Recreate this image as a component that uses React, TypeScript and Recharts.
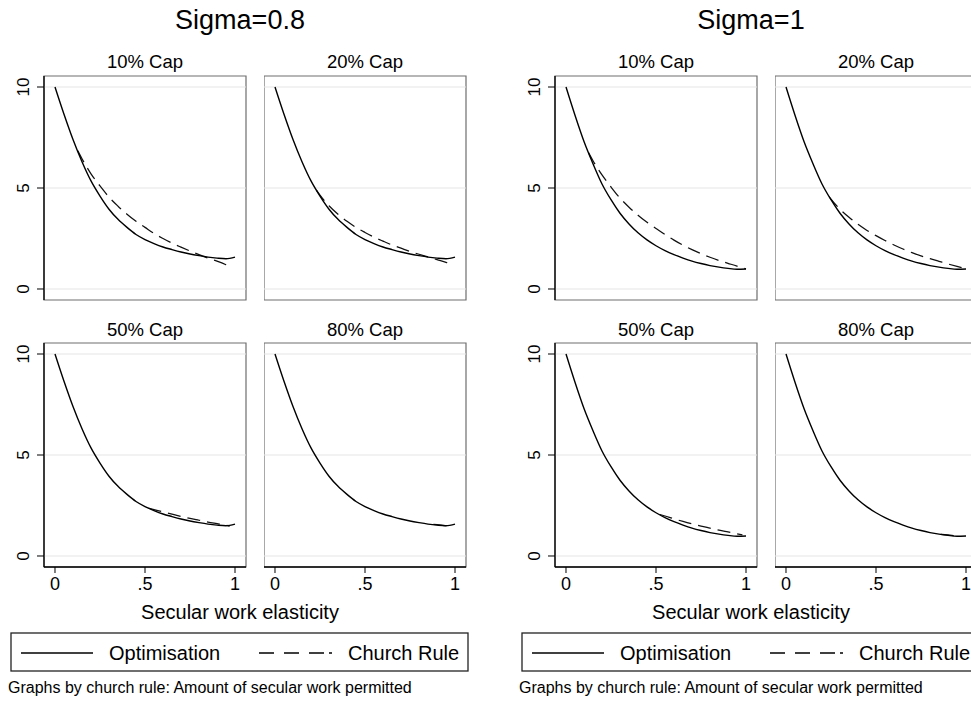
import React from "react";
import { LineChart, Line, XAxis, YAxis, ReferenceLine, ReferenceArea } from "recharts";

// ---------- data ----------
const xGrid = [0, 0.05, 0.1, 0.15, 0.2, 0.25, 0.3, 0.35, 0.4, 0.45, 0.5, 0.55, 0.6, 0.65, 0.7, 0.75, 0.8, 0.85, 0.9, 0.95, 1.0];

// Sigma = 0.8
const optSigma08 = [10.0, 8.65, 7.4, 6.3, 5.35, 4.6, 3.95, 3.45, 3.05, 2.7, 2.45, 2.25, 2.08, 1.95, 1.83, 1.73, 1.65, 1.58, 1.53, 1.5, 1.58];
const rule08_10x = [0.126, 0.15, 0.2, 0.25, 0.3, 0.35, 0.4, 0.45, 0.5, 0.55, 0.6, 0.65, 0.7, 0.75, 0.8, 0.85, 0.9, 0.95, 0.985];
const rule08_10y = [6.85, 6.45, 5.7, 5.1, 4.55, 4.1, 3.7, 3.35, 3.05, 2.75, 2.5, 2.27, 2.07, 1.88, 1.7, 1.53, 1.38, 1.2, 1.05];
const rule08_20x = [0.23, 0.25, 0.3, 0.35, 0.4, 0.45, 0.5, 0.55, 0.6, 0.65, 0.7, 0.75, 0.8, 0.85, 0.9, 0.95, 0.99];
const rule08_20y = [4.9, 4.65, 4.12, 3.7, 3.35, 3.05, 2.8, 2.57, 2.37, 2.18, 2.02, 1.86, 1.72, 1.59, 1.45, 1.32, 1.18];
const rule08_50x = [0.52, 0.55, 0.6, 0.65, 0.7, 0.75, 0.8, 0.85, 0.9, 0.95, 0.97];
const rule08_50y = [2.37, 2.3, 2.18, 2.07, 1.96, 1.86, 1.77, 1.68, 1.6, 1.52, 1.47];
const rule08_80x = [0.88, 0.9, 0.93, 0.96];
const rule08_80y = [1.57, 1.55, 1.52, 1.5];

// Sigma = 1
const optSigma1 = [10.0, 8.6, 7.3, 6.2, 5.2, 4.42, 3.75, 3.22, 2.78, 2.43, 2.14, 1.9, 1.7, 1.53, 1.38, 1.26, 1.16, 1.08, 1.02, 0.98, 0.99];
const rule1_10x = [0.125, 0.15, 0.2, 0.25, 0.3, 0.35, 0.4, 0.45, 0.5, 0.55, 0.6, 0.65, 0.7, 0.75, 0.8, 0.85, 0.9, 0.95, 1.0];
const rule1_10y = [6.75, 6.35, 5.65, 5.05, 4.5, 4.05, 3.65, 3.3, 3.0, 2.7, 2.42, 2.17, 1.95, 1.75, 1.57, 1.41, 1.27, 1.13, 1.0];
const rule1_20x = [0.24, 0.25, 0.3, 0.35, 0.4, 0.45, 0.5, 0.55, 0.6, 0.65, 0.7, 0.75, 0.8, 0.85, 0.9, 0.95, 1.0];
const rule1_20y = [4.57, 4.45, 3.95, 3.55, 3.2, 2.9, 2.64, 2.4, 2.18, 1.98, 1.8, 1.64, 1.5, 1.37, 1.24, 1.12, 1.01];
const rule1_50x = [0.52, 0.55, 0.6, 0.65, 0.7, 0.75, 0.8, 0.85, 0.9, 0.95, 0.98];
const rule1_50y = [2.06, 1.98, 1.84, 1.71, 1.59, 1.48, 1.38, 1.28, 1.19, 1.1, 1.05];
const rule1_80x = [0.86, 0.9, 0.93, 0.96];
const rule1_80y = [1.08, 1.04, 1.01, 0.99];

const capLabels = ["10% Cap", "20% Cap", "50% Cap", "80% Cap"];
const sigmaTitles = ["Sigma=0.8", "Sigma=1"];
const xTicks = [0, 0.5, 1];
const xTickLabels = ["0", ".5", "1"];
const yTicks = [0, 5, 10];
const xTitle = "Secular work elasticity";
const seriesNames = ["Optimisation", "Church Rule"];
const noteText = "Graphs by church rule: Amount of secular work permitted";

// ---------- helpers ----------
const zip = (xs: number[], ys: number[]) => xs.map((x, i) => ({ x, y: ys[i] }));

const X_MIN = -0.0611;
const X_MAX = 1.0611;
const Y_MIN = -0.545;
const Y_MAX = 10.545;
const PW = 202;
const PH = 224;
const PAD = 2;
const FONT = "'Liberation Sans', Arial, Helvetica, sans-serif";

type PanelProps = {
  opt: { x: number; y: number }[];
  rule: { x: number; y: number }[];
  showX: boolean;
  showY: boolean;
  left: number;
  top: number;
};

function Panel({ opt, rule, showX, showY, left, top }: PanelProps) {
  const yW = showY ? 44 : 0;
  const xH = showX ? 30 : 0;
  const chartW = yW + PW + PAD;
  const chartH = PAD + PH + (showX ? xH : PAD);
  const xTickBaseline = 590 - (top - PAD);
  const renderXTick = (p: any) => {
    const idx = xTicks.indexOf(p.payload.value);
    return (
      <text x={p.x} y={xTickBaseline} textAnchor="middle" fontSize={18} fontFamily={FONT} fill="#000">
        {xTickLabels[idx]}
      </text>
    );
  };
  const renderYTick = (p: any) => (
    <text
      x={0}
      y={0}
      transform={`translate(29, ${p.y}) rotate(-90)`}
      textAnchor="middle"
      fontSize={17}
      fontFamily={FONT}
      fill="#000"
    >
      {p.payload.value}
    </text>
  );
  return (
    <div style={{ position: "absolute", left: left - yW, top: top - PAD }}>
      <LineChart
        width={chartW}
        height={chartH}
        margin={{ top: PAD, right: PAD, bottom: showX ? 0 : PAD, left: 0 }}
      >
        <XAxis
          type="number"
          dataKey="x"
          domain={[X_MIN, X_MAX]}
          allowDataOverflow
          ticks={xTicks}
          hide={!showX}
          height={xH}
          tickSize={6}
          tickLine={{ stroke: "#000", strokeWidth: 1 }}
          axisLine={{ stroke: "#000", strokeWidth: 1.3 }}
          tick={renderXTick}
        />
        <YAxis
          type="number"
          dataKey="y"
          domain={[Y_MIN, Y_MAX]}
          allowDataOverflow
          ticks={yTicks}
          hide={!showY}
          width={yW}
          tickSize={7}
          tickLine={{ stroke: "#000", strokeWidth: 1 }}
          axisLine={{ stroke: "#000", strokeWidth: 1.3 }}
          tick={renderYTick}
        />
        {yTicks.map((v) => (
          <ReferenceLine key={v} y={v} stroke="#e6e6e6" strokeWidth={1.2} />
        ))}
        <ReferenceArea x1={X_MIN} x2={X_MAX} y1={Y_MIN} y2={Y_MAX} fill="none" fillOpacity={0} stroke="#6e6e6e" strokeWidth={1.2} />
        <Line
          data={rule}
          dataKey="y"
          type="monotone"
          stroke="#111"
          strokeWidth={1.25}
          strokeDasharray="13 7"
          dot={false}
          activeDot={false}
          isAnimationActive={false}
        />
        <Line
          data={opt}
          dataKey="y"
          type="monotone"
          stroke="#000"
          strokeWidth={1.4}
          dot={false}
          activeDot={false}
          isAnimationActive={false}
        />
      </LineChart>
    </div>
  );
}

type FigureProps = {
  offset: number;
  title: string;
  opt: number[];
  rules: { x: number; y: number }[][];
};

function Figure({ offset, title, opt, rules }: FigureProps) {
  const optData = zip(xGrid, opt);
  const lefts = [44, 264];
  const tops = [76, 343];
  return (
    <div style={{ position: "absolute", left: offset, top: 0, width: 490, height: 701 }}>
      {[0, 1, 2, 3].map((i) => {
        const col = i % 2;
        const row = Math.floor(i / 2);
        return (
          <Panel
            key={i}
            opt={optData}
            rule={rules[i]}
            showX={row === 1}
            showY={col === 0}
            left={lefts[col]}
            top={tops[row]}
          />
        );
      })}
      <svg
        width={490}
        height={701}
        style={{ position: "absolute", left: 0, top: 0, pointerEvents: "none" }}
        fontFamily={FONT}
      >
        <text x={240} y={29} textAnchor="middle" fontSize={27} fill="#000">{title}</text>
        {[0, 1, 2, 3].map((i) => {
          const col = i % 2;
          const row = Math.floor(i / 2);
          return (
            <text key={i} x={lefts[col] + PW / 2} y={row === 0 ? 68 : 336} textAnchor="middle" fontSize={18.5} fill="#000">
              {capLabels[i]}
            </text>
          );
        })}
        <text x={240} y={619} textAnchor="middle" fontSize={20} fill="#000">{xTitle}</text>
        <rect x={11} y={633} width={457} height={38} fill="none" stroke="#222" strokeWidth={1.3} />
        <line x1={21} y1={653} x2={93} y2={653} stroke="#000" strokeWidth={1.4} />
        <text x={109} y={660} fontSize={20} fill="#000">{seriesNames[0]}</text>
        <line x1={259} y1={653} x2={332} y2={653} stroke="#000" strokeWidth={1.3} strokeDasharray="15 10 15 10 15 5 3 10" />
        <text x={348} y={660} fontSize={20} fill="#000">{seriesNames[1]}</text>
        <text x={8} y={692.5} fontSize={16} fill="#000">{noteText}</text>
      </svg>
    </div>
  );
}

export default function App() {
  const rules08 = [
    zip(rule08_10x, rule08_10y),
    zip(rule08_20x, rule08_20y),
    zip(rule08_50x, rule08_50y),
    zip(rule08_80x, rule08_80y),
  ];
  const rules1 = [
    zip(rule1_10x, rule1_10y),
    zip(rule1_20x, rule1_20y),
    zip(rule1_50x, rule1_50y),
    zip(rule1_80x, rule1_80y),
  ];
  return (
    <div
      style={{
        position: "absolute",
        left: 0,
        top: 0,
        width: 971,
        height: 701,
        overflow: "hidden",
        background: "#fff",
        fontFamily: FONT,
      }}
    >
      <Figure offset={0} title={sigmaTitles[0]} opt={optSigma08} rules={rules08} />
      <Figure offset={511} title={sigmaTitles[1]} opt={optSigma1} rules={rules1} />
    </div>
  );
}
